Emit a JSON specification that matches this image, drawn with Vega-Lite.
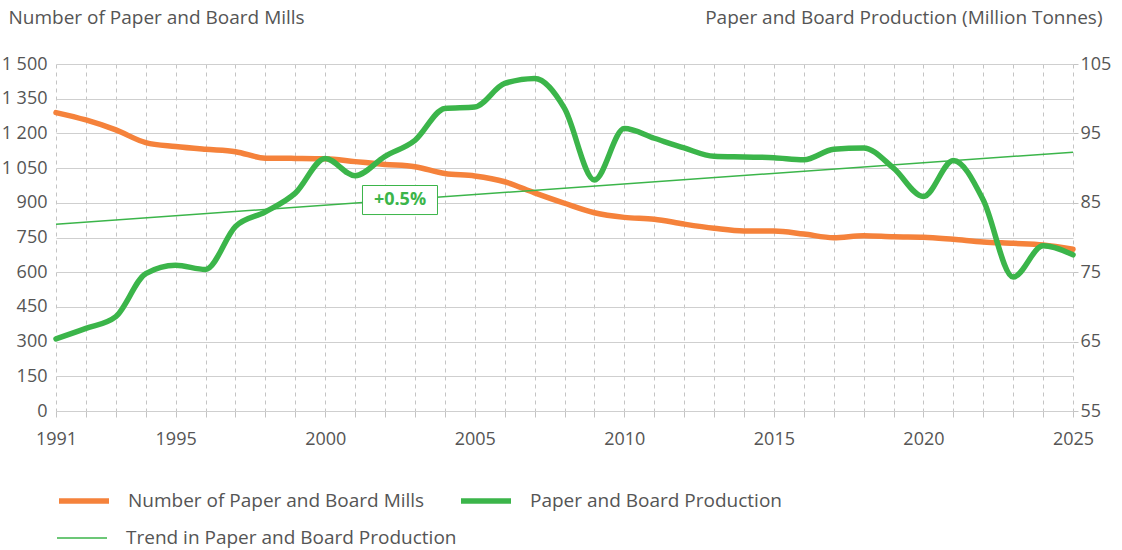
{
  "$schema": "https://vega.github.io/schema/vega-lite/v6.json",
  "width": 1017,
  "height": 347,
  "autosize": {"type": "none"},
  "padding": {"left": 56, "top": 64, "right": 49, "bottom": 139},
  "background": "white",
  "config": {
    "font": "Open Sans",
    "view": {"stroke": null},
    "axis": {"labelFont": "Open Sans", "labelFontSize": 18, "labelColor": "#555", "titleFont": "Open Sans", "titleFontSize": 19, "titleColor": "#555", "titleFontWeight": "normal"},
    "legend": {"labelFont": "Open Sans", "labelFontSize": 19, "labelColor": "#555"}
  },
  "datasets": {
    "series": [
      {"year": 1991, "series": "Number of Paper and Board Mills", "value": 1290},
      {"year": 1992, "series": "Number of Paper and Board Mills", "value": 1258},
      {"year": 1993, "series": "Number of Paper and Board Mills", "value": 1215},
      {"year": 1994, "series": "Number of Paper and Board Mills", "value": 1160},
      {"year": 1995, "series": "Number of Paper and Board Mills", "value": 1143},
      {"year": 1996, "series": "Number of Paper and Board Mills", "value": 1131},
      {"year": 1997, "series": "Number of Paper and Board Mills", "value": 1121},
      {"year": 1998, "series": "Number of Paper and Board Mills", "value": 1093},
      {"year": 1999, "series": "Number of Paper and Board Mills", "value": 1092},
      {"year": 2000, "series": "Number of Paper and Board Mills", "value": 1090},
      {"year": 2001, "series": "Number of Paper and Board Mills", "value": 1078},
      {"year": 2002, "series": "Number of Paper and Board Mills", "value": 1066},
      {"year": 2003, "series": "Number of Paper and Board Mills", "value": 1056},
      {"year": 2004, "series": "Number of Paper and Board Mills", "value": 1027},
      {"year": 2005, "series": "Number of Paper and Board Mills", "value": 1016},
      {"year": 2006, "series": "Number of Paper and Board Mills", "value": 991},
      {"year": 2007, "series": "Number of Paper and Board Mills", "value": 943},
      {"year": 2008, "series": "Number of Paper and Board Mills", "value": 898},
      {"year": 2009, "series": "Number of Paper and Board Mills", "value": 857},
      {"year": 2010, "series": "Number of Paper and Board Mills", "value": 837},
      {"year": 2011, "series": "Number of Paper and Board Mills", "value": 829},
      {"year": 2012, "series": "Number of Paper and Board Mills", "value": 808},
      {"year": 2013, "series": "Number of Paper and Board Mills", "value": 790},
      {"year": 2014, "series": "Number of Paper and Board Mills", "value": 778},
      {"year": 2015, "series": "Number of Paper and Board Mills", "value": 778},
      {"year": 2016, "series": "Number of Paper and Board Mills", "value": 765},
      {"year": 2017, "series": "Number of Paper and Board Mills", "value": 749},
      {"year": 2018, "series": "Number of Paper and Board Mills", "value": 758},
      {"year": 2019, "series": "Number of Paper and Board Mills", "value": 753},
      {"year": 2020, "series": "Number of Paper and Board Mills", "value": 751},
      {"year": 2021, "series": "Number of Paper and Board Mills", "value": 742},
      {"year": 2022, "series": "Number of Paper and Board Mills", "value": 731},
      {"year": 2023, "series": "Number of Paper and Board Mills", "value": 725},
      {"year": 2024, "series": "Number of Paper and Board Mills", "value": 718},
      {"year": 2025, "series": "Number of Paper and Board Mills", "value": 699},
      {"year": 1991, "series": "Paper and Board Production", "value": 65.4},
      {"year": 1992, "series": "Paper and Board Production", "value": 66.9},
      {"year": 1993, "series": "Paper and Board Production", "value": 68.6},
      {"year": 1994, "series": "Paper and Board Production", "value": 74.8},
      {"year": 1995, "series": "Paper and Board Production", "value": 76.0},
      {"year": 1996, "series": "Paper and Board Production", "value": 75.4},
      {"year": 1997, "series": "Paper and Board Production", "value": 81.6},
      {"year": 1998, "series": "Paper and Board Production", "value": 83.7},
      {"year": 1999, "series": "Paper and Board Production", "value": 86.4},
      {"year": 2000, "series": "Paper and Board Production", "value": 91.4},
      {"year": 2001, "series": "Paper and Board Production", "value": 88.9},
      {"year": 2002, "series": "Paper and Board Production", "value": 91.7},
      {"year": 2003, "series": "Paper and Board Production", "value": 94.0},
      {"year": 2004, "series": "Paper and Board Production", "value": 98.6},
      {"year": 2005, "series": "Paper and Board Production", "value": 98.8},
      {"year": 2006, "series": "Paper and Board Production", "value": 102.2},
      {"year": 2007, "series": "Paper and Board Production", "value": 102.9},
      {"year": 2008, "series": "Paper and Board Production", "value": 98.6},
      {"year": 2009, "series": "Paper and Board Production", "value": 88.3},
      {"year": 2010, "series": "Paper and Board Production", "value": 95.7},
      {"year": 2011, "series": "Paper and Board Production", "value": 94.3},
      {"year": 2012, "series": "Paper and Board Production", "value": 92.9},
      {"year": 2013, "series": "Paper and Board Production", "value": 91.7},
      {"year": 2014, "series": "Paper and Board Production", "value": 91.6},
      {"year": 2015, "series": "Paper and Board Production", "value": 91.5},
      {"year": 2016, "series": "Paper and Board Production", "value": 91.2},
      {"year": 2017, "series": "Paper and Board Production", "value": 92.7},
      {"year": 2018, "series": "Paper and Board Production", "value": 92.9},
      {"year": 2019, "series": "Paper and Board Production", "value": 90.0},
      {"year": 2020, "series": "Paper and Board Production", "value": 85.9},
      {"year": 2021, "series": "Paper and Board Production", "value": 91.1},
      {"year": 2022, "series": "Paper and Board Production", "value": 85.4},
      {"year": 2023, "series": "Paper and Board Production", "value": 74.3},
      {"year": 2024, "series": "Paper and Board Production", "value": 78.8},
      {"year": 2025, "series": "Paper and Board Production", "value": 77.5},
      {"year": 1991, "series": "Trend in Paper and Board Production", "value": 81.9},
      {"year": 2025, "series": "Trend in Paper and Board Production", "value": 92.3}
    ],
    "note": [
      {"year": 2002.5, "value": 85.4, "label": "+0.5%"}
    ]
  },
  "encoding": {
    "x": {
      "field": "year", "type": "quantitative",
      "scale": {"domain": [1991, 2025], "nice": false, "zero": false},
      "axis": {
        "title": null,
        "values": [1991,1992,1993,1994,1995,1996,1997,1998,1999,2000,2001,2002,2003,2004,2005,2006,2007,2008,2009,2010,2011,2012,2013,2014,2015,2016,2017,2018,2019,2020,2021,2022,2023,2024,2025],
        "format": "d",
        "labelExpr": "(datum.value == 1991 || datum.value % 5 == 0) ? datum.label : ''",
        "labelOverlap": false,
        "labelFlush": false,
        "labelPadding": 13,
        "grid": true, "gridDash": [4, 4], "gridColor": "#c4c4c4", "gridWidth": 1,
        "ticks": true, "tickSize": 6, "tickColor": "#c4c4c4",
        "domain": true, "domainColor": "#cfcfcf"
      }
    }
  },
  "layer": [
    {
      "data": {"name": "series"},
      "transform": [{"filter": "datum.series == 'Number of Paper and Board Mills'"}],
      "mark": {"type": "line", "interpolate": "monotone", "strokeCap": "round", "strokeWidth": 5.5},
      "encoding": {
        "y": {
          "field": "value", "type": "quantitative",
          "scale": {"domain": [0, 1500], "nice": false},
          "axis": {
            "title": "Number of Paper and Board Mills",
            "titleAngle": 0, "titleAlign": "left", "titleBaseline": "alphabetic",
            "titleX": -48, "titleY": -41,
            "values": [0,150,300,450,600,750,900,1050,1200,1350,1500],
            "format": ",d",
            "labelExpr": "replace(datum.label, ',', ' ')",
            "labelPadding": 9,
            "grid": true, "gridColor": "#cfcfcf", "gridWidth": 1,
            "ticks": false, "domain": false
          }
        },
        "color": {
          "field": "series", "type": "nominal",
          "scale": {"domain": ["Number of Paper and Board Mills", "Paper and Board Production"], "range": ["#F5823B", "#3BB54A"]},
          "legend": {
            "title": null, "orient": "none", "legendX": 0, "legendY": 409,
            "direction": "horizontal", "columns": 2, "symbolType": "stroke",
            "symbolSize": 2500, "symbolStrokeWidth": 5.5, "labelOffset": 16, "columnPadding": 25,
            "labelLimit": 500
          }
        }
      }
    },
    {
      "layer": [
        {
          "data": {"name": "series"},
          "transform": [{"filter": "datum.series == 'Paper and Board Production'"}],
          "mark": {"type": "line", "interpolate": "monotone", "strokeCap": "round", "strokeWidth": 5.5},
          "encoding": {
            "y": {
              "field": "value", "type": "quantitative",
              "scale": {"domain": [55, 105], "nice": false, "zero": false},
              "axis": {
                "orient": "right",
                "title": "Paper and Board Production (Million Tonnes)",
                "titleAngle": 0, "titleAlign": "right", "titleBaseline": "alphabetic",
                "titleX": 29, "titleY": -41,
                "values": [55,60,65,70,75,80,85,90,95,100,105],
                "labelPadding": 2,
                "grid": false, "ticks": true, "tickSize": 5, "tickColor": "#c4c4c4",
                "domain": false
              }
            },
            "color": {"field": "series", "type": "nominal"}
          }
        },
        {
          "data": {"name": "series"},
          "transform": [{"filter": "datum.series == 'Trend in Paper and Board Production'"}],
          "mark": {"type": "line", "strokeWidth": 1.5, "color": "#3BB54A"},
          "encoding": {
            "y": {"field": "value", "type": "quantitative"},
            "opacity": {
              "field": "series", "type": "nominal",
              "scale": {"domain": ["Trend in Paper and Board Production"], "range": [1]},
              "legend": {
                "title": null, "orient": "none", "legendX": 0, "legendY": 448,
                "symbolType": "stroke", "symbolSize": 2500, "symbolStrokeWidth": 1.5,
                "symbolStrokeColor": "#3BB54A", "labelOffset": 18, "labelLimit": 500
              }
            }
          }
        },
        {
          "data": {"name": "note"},
          "mark": {"type": "point", "shape": "M-1,-0.387H1V0.387H-1Z", "size": 5625, "filled": true, "fill": "white", "stroke": "#3BB54A", "strokeWidth": 1, "opacity": 1},
          "encoding": {
            "y": {"field": "value", "type": "quantitative"}
          }
        },
        {
          "data": {"name": "note"},
          "mark": {"type": "text", "font": "Open Sans", "fontSize": 18, "fontWeight": "bold", "color": "#3BB54A", "align": "center", "baseline": "middle"},
          "encoding": {
            "y": {"field": "value", "type": "quantitative"},
            "text": {"field": "label"}
          }
        }
      ]
    }
  ],
  "resolve": {"scale": {"y": "independent"}}
}
